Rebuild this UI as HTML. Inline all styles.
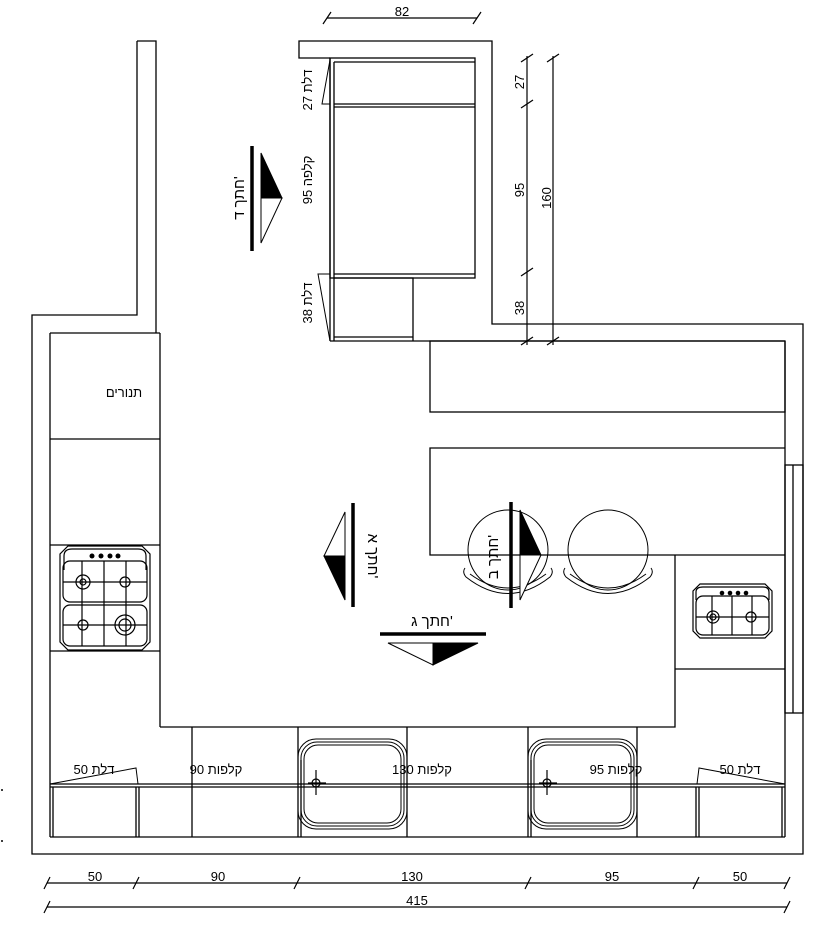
<!DOCTYPE html>
<html><head><meta charset="utf-8"><style>
html,body{margin:0;padding:0;background:#fff;}
svg{display:block;}
text{font-family:"Liberation Sans","DejaVu Sans",sans-serif;font-size:13px;fill:#000;}
</style></head><body>
<svg width="823" height="942" viewBox="0 0 823 942" xmlns="http://www.w3.org/2000/svg">
<defs>
<g id="stool">
  <circle cx="0" cy="0" r="40" fill="none" stroke="#000" stroke-width="1"/>
  <path d="M-43,18 Q-46,22 -42,27 Q0,60 42,27 Q46,22 43,18" fill="none" stroke="#000" stroke-width="1"/>
  <path d="M-38,24 Q0,52 38,24" fill="none" stroke="#000" stroke-width="1"/>
</g>
<g id="sink">
  <rect x="0" y="0" width="109" height="90" rx="18" fill="none" stroke="#000" stroke-width="1"/>
  <rect x="3" y="3" width="103" height="84" rx="16" fill="none" stroke="#000" stroke-width="1"/>
  <rect x="6" y="6" width="97" height="78" rx="14" fill="none" stroke="#000" stroke-width="1"/>
</g>
</defs>
<g fill="none" stroke="#000" stroke-width="1.3">
<polyline points="137,41 156,41 156,333"/>
<polyline points="137,41 137,315 32,315 32,854 803,854 803,324 492,324 492,41 299,41 299,58 330,58"/>
<line x1="330" y1="58" x2="330" y2="341"/>
<line x1="330" y1="341" x2="785" y2="341"/>
<line x1="785" y1="341" x2="785" y2="837"/>
<line x1="50" y1="837" x2="785" y2="837"/>
<line x1="50" y1="333" x2="50" y2="837"/>
<line x1="50" y1="333" x2="160" y2="333"/>
<rect x="785" y="465" width="18" height="248"/>
<line x1="793" y1="465" x2="793" y2="713"/>
<line x1="160" y1="333" x2="160" y2="727"/>
<line x1="50" y1="439" x2="160" y2="439"/>
<line x1="50" y1="545" x2="160" y2="545"/>
<line x1="50" y1="651" x2="160" y2="651"/>
<polyline points="160,727 675,727 675,555"/>
<rect x="430" y="341" width="355" height="71"/>
<polyline points="785,448 430,448 430,555 785,555"/>
<line x1="675" y1="669" x2="785" y2="669"/>
<rect x="330" y="58" width="145" height="220" />
<line x1="334" y1="62" x2="475" y2="62"/>
<line x1="334" y1="62" x2="334" y2="341"/>
<line x1="334" y1="104" x2="475" y2="104"/>
<line x1="334" y1="107" x2="475" y2="107"/>
<line x1="334" y1="274" x2="475" y2="274"/>
<polyline points="334,278 413,278 413,341"/>
<line x1="334" y1="337" x2="413" y2="337"/>
<polyline points="330,60 322,104 330,104" stroke-width="1"/>
<polyline points="330,341 318,274 330,274" stroke-width="1"/>
<line x1="50" y1="784" x2="785" y2="784"/>
<line x1="50" y1="787" x2="785" y2="787"/>
<line x1="53" y1="787" x2="53" y2="837"/>
<line x1="136" y1="787" x2="136" y2="837"/>
<line x1="139" y1="787" x2="139" y2="837"/>
<line x1="192" y1="727" x2="192" y2="837"/>
<line x1="298" y1="727" x2="298" y2="837"/>
<line x1="301" y1="760" x2="301" y2="837"/>
<line x1="407" y1="727" x2="407" y2="837"/>
<line x1="528" y1="727" x2="528" y2="837"/>
<line x1="531" y1="760" x2="531" y2="837"/>
<line x1="637" y1="727" x2="637" y2="837"/>
<line x1="696" y1="787" x2="696" y2="837"/>
<line x1="699" y1="787" x2="699" y2="837"/>
<line x1="782" y1="787" x2="782" y2="837"/>
<polyline points="50,784 136,768 138,784" stroke-width="1"/>
<polyline points="785,784 699,768 697,784" stroke-width="1"/>
</g>
<use href="#sink" x="298" y="739"/>
<use href="#sink" x="528" y="739"/>
<g stroke="#000" fill="none" stroke-width="1.2">
<line x1="316" y1="770" x2="316" y2="795"/><line x1="308" y1="783" x2="326" y2="783"/><circle cx="316" cy="783" r="4"/>
<line x1="547" y1="770" x2="547" y2="795"/><line x1="539" y1="783" x2="557" y2="783"/><circle cx="547" cy="783" r="4"/>
</g>
<use href="#stool" x="508" y="550"/>
<use href="#stool" x="608" y="550"/>
<g fill="none" stroke="#000" stroke-width="1.2">
<polygon points="68,546 142,546 150,554 150,642 142,650 68,650 60,642 60,554"/>
<path d="M64,570 L64,556 Q64,549 72,549 L138,549 Q146,549 146,556 L146,570"/>
<rect x="63" y="561" width="84" height="41" rx="7"/>
<rect x="63" y="605" width="84" height="41" rx="7"/>
<line x1="82" y1="561" x2="82" y2="646"/><line x1="104" y1="561" x2="104" y2="646"/><line x1="126" y1="561" x2="126" y2="646"/>
<line x1="63" y1="582" x2="147" y2="582"/><line x1="63" y1="625" x2="147" y2="625"/>
<circle cx="83" cy="582" r="7"/><circle cx="83" cy="582" r="3"/>
<circle cx="125" cy="582" r="5"/>
<circle cx="83" cy="625" r="5"/>
<circle cx="125" cy="625" r="10"/><circle cx="125" cy="625" r="6"/>
</g>
<g fill="#000"><circle cx="92" cy="556" r="2.5"/><circle cx="101" cy="556" r="2.5"/><circle cx="110" cy="556" r="2.5"/><circle cx="118" cy="556" r="2.5"/></g>
<g fill="none" stroke="#000" stroke-width="1.2">
<polygon points="700,584 765,584 772,591 772,631 765,638 700,638 693,631 693,591"/>
<path d="M696,600 L696,592 Q696,587 703,587 L763,587 Q769,587 769,592 L769,600"/>
<rect x="696" y="596" width="73" height="39" rx="7"/>
<line x1="712" y1="596" x2="712" y2="635"/><line x1="732" y1="596" x2="732" y2="635"/><line x1="752" y1="596" x2="752" y2="635"/>
<line x1="696" y1="617" x2="769" y2="617"/>
<circle cx="713" cy="617" r="6"/><circle cx="713" cy="617" r="3"/>
<circle cx="751" cy="617" r="5"/>
</g>
<g fill="#000"><circle cx="722" cy="593" r="2.3"/><circle cx="730" cy="593" r="2.3"/><circle cx="738" cy="593" r="2.3"/><circle cx="746" cy="593" r="2.3"/></g>
<g stroke="#000">
<line x1="252" y1="146" x2="252" y2="251" stroke-width="3.5"/>
<polygon points="261,153 261,198 282,198" fill="#000" stroke-width="1"/>
<polygon points="261,198 282,198 261,243" fill="#fff" stroke-width="1"/>
<line x1="353" y1="503" x2="353" y2="607" stroke-width="3.5"/>
<polygon points="345,512 345,556 324,556" fill="#fff" stroke-width="1"/>
<polygon points="324,556 345,556 345,600" fill="#000" stroke-width="1"/>
<line x1="511" y1="502" x2="511" y2="608" stroke-width="3.5"/>
<polygon points="520,510 520,555 541,555" fill="#000" stroke-width="1"/>
<polygon points="520,555 541,555 520,600" fill="#fff" stroke-width="1"/>
<line x1="380" y1="634" x2="486" y2="634" stroke-width="3.5"/>
<polygon points="388,643 433,643 433,665" fill="#fff" stroke-width="1"/>
<polygon points="433,643 478,643 433,665" fill="#000" stroke-width="1"/>
</g>
<text transform="translate(244,198) rotate(-90)" text-anchor="middle" style="font-size:15px">חתך ד'</text>
<text transform="translate(368,556) rotate(90)" text-anchor="middle" style="font-size:15px">חתך א'</text>
<text transform="translate(498,557) rotate(-90)" text-anchor="middle" style="font-size:15px">חתך ב'</text>
<text x="432" y="626" text-anchor="middle" style="font-size:15px">חתך ג'</text>
<text transform="translate(312,90) rotate(-90)" text-anchor="middle">27 דלת</text>
<text transform="translate(312,180) rotate(-90)" text-anchor="middle">95 קלפה</text>
<text transform="translate(312,303) rotate(-90)" text-anchor="middle">38 דלת</text>
<text x="124" y="397" text-anchor="middle">תנורים</text>
<text x="94" y="774" text-anchor="middle">50 דלת</text>
<text x="216" y="774" text-anchor="middle">90 קלפות</text>
<text x="422" y="774" text-anchor="middle">130 קלפות</text>
<text x="616" y="774" text-anchor="middle">95 קלפות</text>
<text x="740" y="774" text-anchor="middle">50 דלת</text>
<g stroke="#000" stroke-width="1.2">
<line x1="327" y1="18" x2="477" y2="18"/>
<line x1="323" y1="24" x2="331" y2="12"/><line x1="473" y1="24" x2="481" y2="12"/>
<line x1="527" y1="56" x2="527" y2="345"/>
<line x1="553" y1="56" x2="553" y2="345"/>
<line x1="521" y1="62" x2="533" y2="54"/><line x1="521" y1="108" x2="533" y2="100"/>
<line x1="521" y1="276" x2="533" y2="268"/><line x1="521" y1="345" x2="533" y2="337"/>
<line x1="547" y1="62" x2="559" y2="54"/><line x1="547" y1="345" x2="559" y2="337"/>
<line x1="47" y1="883" x2="787" y2="883"/>
<line x1="47" y1="907" x2="787" y2="907"/>
<line x1="44" y1="889" x2="50" y2="877"/><line x1="133" y1="889" x2="139" y2="877"/>
<line x1="294" y1="889" x2="300" y2="877"/><line x1="525" y1="889" x2="531" y2="877"/>
<line x1="693" y1="889" x2="699" y2="877"/><line x1="784" y1="889" x2="790" y2="877"/>
<line x1="44" y1="913" x2="50" y2="901"/><line x1="784" y1="913" x2="790" y2="901"/>
</g>
<text x="402" y="16" text-anchor="middle">82</text>
<text transform="translate(524,82) rotate(-90)" text-anchor="middle">27</text>
<text transform="translate(524,190) rotate(-90)" text-anchor="middle">95</text>
<text transform="translate(524,308) rotate(-90)" text-anchor="middle">38</text>
<text transform="translate(551,198) rotate(-90)" text-anchor="middle">160</text>
<text x="95" y="881" text-anchor="middle">50</text>
<text x="218" y="881" text-anchor="middle">90</text>
<text x="412" y="881" text-anchor="middle">130</text>
<text x="612" y="881" text-anchor="middle">95</text>
<text x="740" y="881" text-anchor="middle">50</text>
<text x="417" y="905" text-anchor="middle">415</text>
<circle cx="2" cy="790" r="1" fill="#000"/><circle cx="2" cy="841" r="1" fill="#000"/>
</svg>
</body></html>
